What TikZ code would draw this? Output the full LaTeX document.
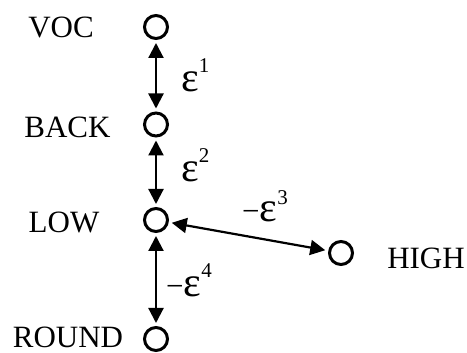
\documentclass[tikz,border=0pt]{standalone}
\usepackage{fontspec}
\setmainfont{Liberation Serif}
\usetikzlibrary{arrows.meta}
\newcommand\epsglyph{{\fontsize{42}{42}\selectfont ε}}
\newcommand\supnum[1]{\raisebox{19pt}{\fontsize{21}{21}\selectfont #1}}
\begin{document}
\begin{tikzpicture}[x=1pt,y=-1pt,
  state/.style={circle,draw,line width=3pt,minimum size=23pt,inner sep=0pt},
  lab/.style={font=\fontsize{31}{31}\selectfont,inner sep=0pt},
  elab/.style={font=\fontsize{31}{31}\selectfont,inner sep=0pt,anchor=base west},
  link/.style={line width=2.2pt,{Triangle[length=15pt,width=15pt]}-{Triangle[length=15pt,width=15pt]},shorten <=3pt,shorten >=3pt}]
\useasboundingbox (0,0) rectangle (467,353);
\node[state] (voc) at (156,27) {};
\node[state] (back) at (156,124.5) {};
\node[state] (low) at (156,220) {};
\node[state] (round) at (156,339) {};
\node[state] (high) at (341,253) {};
\node[lab] (tvoc) at (61,27.5) {VOC};
\node[lab] (tback) at (67.5,127) {BACK};
\node[lab] (tlow) at (64,222.5) {LOW};
\node[lab] (tround) at (68,337) {ROUND};
\node[lab] (thigh) at (426,258) {HIGH};
\draw[link] (voc) -- (back);
\draw[link] (back) -- (low);
\draw[link] (low) -- (round);
\draw[link] (low) -- (high);
\node[elab] (e1) at (181,92) {\epsglyph\supnum{1}};
\node[elab] (e2) at (181,182) {\epsglyph\supnum{2}};
\node[elab] (e3) at (242,222) {−\epsglyph\raisebox{-2pt}{\supnum{3}}};
\node[elab] (e4) at (166,297) {−\epsglyph\supnum{4}};
\end{tikzpicture}
\end{document}
